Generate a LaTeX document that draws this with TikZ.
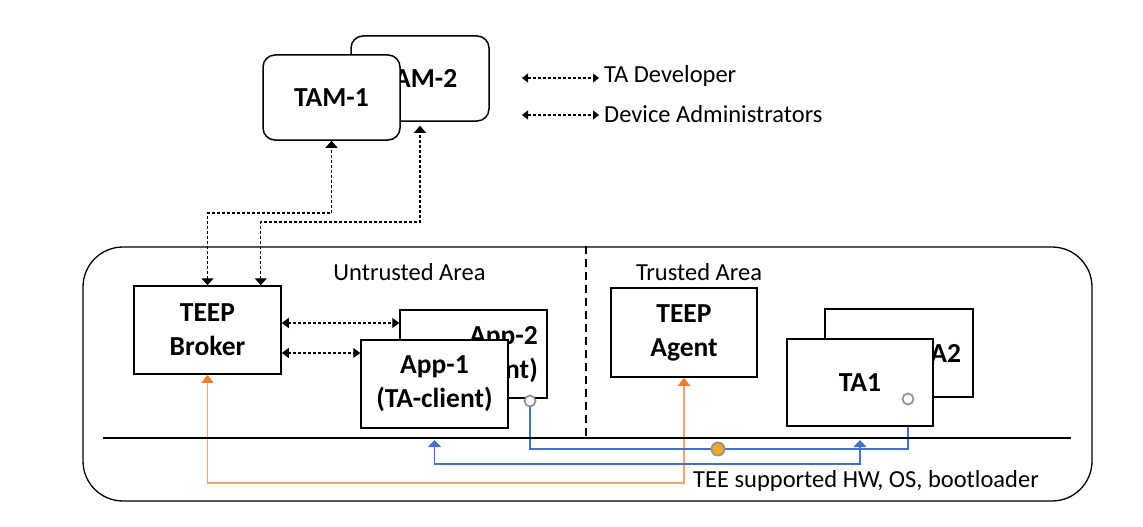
\documentclass[tikz,border=0pt]{standalone}
\usepackage{fontspec}
\setmainfont{Carlito}
\usetikzlibrary{arrows.meta,calc}
\pgfdeclarelayer{bg}
\pgfsetlayers{bg,main}
\definecolor{tblue}{HTML}{4472C4}
\definecolor{torange}{HTML}{ED7D31}
\definecolor{tlorange}{HTML}{F2A36E}
\definecolor{tgray}{HTML}{949494}
\definecolor{tdot}{HTML}{F5A623}
\begin{document}
\begin{tikzpicture}[x=1pt,y=-1pt,
  box/.style={draw, line width=1.5pt, fill=white, inner sep=0pt,
    font=\fontsize{27.5}{34}\selectfont\bfseries, align=center},
  rbox/.style={box, rounded corners=12pt},
  btxt/.style={inner sep=0pt, font=\fontsize{27.5}{34}\selectfont\bfseries},
  lbl/.style={font=\fontsize{24.5}{28}\selectfont, inner sep=0pt},
  darr/.style={dash pattern=on 3pt off 2pt, line width=1.1pt,
    {Triangle[width=12pt,length=7pt]}-{Triangle[width=12pt,length=7pt]}},
  sarr/.style={dash pattern=on 3pt off 2pt, line width=1.1pt,
    {Triangle[width=10pt,length=7pt]}-{Triangle[width=10pt,length=7pt]}},
  larr/.style={dash pattern=on 3pt off 2pt, line width=1.1pt,
    {Triangle[width=9pt,length=6pt]}-{Triangle[width=9pt,length=6pt]}},
  oarr/.style={draw=tlorange, line width=1.4pt,
    {Triangle[width=12pt,length=8pt,color=torange]}-{Triangle[width=12pt,length=8pt,color=torange]}},
  bline/.style={draw=tblue, line width=1.4pt},
  barr/.style={draw=tblue, line width=1.4pt,
    {Triangle[width=13pt,length=7pt]}-{Triangle[width=13pt,length=7pt]}},
  port/.style={circle, draw=tgray, line width=1.8pt, fill=white, minimum size=11pt, inner sep=0pt},
  dotn/.style={circle, draw=tgray, line width=1.8pt, fill=tdot, minimum size=13pt, inner sep=0pt},
  divl/.style={line width=1.8pt, dash pattern=on 8pt off 5pt}
]
\useasboundingbox (0,0) rectangle (1143,527);

% outer area
\node[draw, line width=1.3pt, rounded corners=40pt, minimum width=1009pt,
  minimum height=254pt, inner sep=0pt] (outer) at (587.5,374) {};

% TAMs
\node[rbox, minimum width=138pt, minimum height=85pt] (tam2) at (420,78.5) {TAM-2};
\node[rbox, minimum width=137pt, minimum height=85pt] (tam1) at (331.5,97.5) {TAM-1};

% untrusted side
\node[box, minimum width=147pt, minimum height=88pt] (broker) at (207.5,330) {TEEP\\Broker};
\node[box, minimum width=147pt, minimum height=88pt] (app2) at (473.5,354) {};
\node[btxt, anchor=east, align=right] (app2t) at (538,355) {App-2\\(TA-client)};
\node[box, minimum width=147pt, minimum height=88pt] (app1) at (434.5,384) {App-1\\(TA-client)};

% trusted side
\node[box, minimum width=146pt, minimum height=89pt] (agent) at (684,332.5) {TEEP\\Agent};
\node[box, minimum width=148pt, minimum height=88pt] (ta2) at (899,353) {};
\node[btxt] (ta2t) at (940,353) {TA2};
\node[box, minimum width=146pt, minimum height=87pt] (ta1) at (860,382.5) {TA1};

% ports and dot
\node[port] (c1) at (530,401) {};
\node[port] (c2) at (908,399) {};
\node[dotn] (od) at (718,449) {};

% labels
\node[lbl] (untr) at (409.5,272) {Untrusted Area};
\node[lbl] (tr) at (699,272) {Trusted Area};
\node[lbl, anchor=west] (hw) at (693,481) {TEE supported HW, OS, bootloader};
\node[lbl, anchor=west] (tdev) at (604,76) {TA Developer};
\node[lbl, anchor=west] (dadm) at (604,114) {Device Administrators};

% legend arrows
\coordinate (l1) at (522,78);
\coordinate (l2) at (522,115);
\draw[larr] (l1) -- ($(tdev.west |- l1)+(-5,0)$);
\draw[larr] (l2) -- ($(dadm.west |- l2)+(-5,0)$);

% hardware line and divider
\coordinate (h1) at (103,438);
\coordinate (h2) at (1071,438);
\draw[line width=1.4pt] (h1) -- (h2);
\coordinate (dv) at (586,438);
\draw[divl] (outer.north -| dv) -- (dv);

\begin{pgfonlayer}{bg}
  \coordinate (j1) at (0,213);
  \coordinate (j2) at (0,222);
  \draw[darr] (broker.north) |- (tam1.south |- j1) -- (tam1.south);
  \draw[darr, shorten >=4pt] ($(broker.north east)+(-21,0)$) |- (tam2.south |- j2) -- (tam2.south);

  \coordinate (k1) at (0,323);
  \coordinate (k2) at (0,353);
  \draw[sarr] (broker.east |- k1) -- (app2.west |- k1);
  \draw[sarr] (broker.east |- k2) -- (app1.west |- k2);

  \coordinate (o1) at (0,483);
  \draw[oarr] (broker.south) |- (agent.south |- o1) -- (agent.south);

  \coordinate (m1) at (0,449);
  \draw[bline] (c1.south) |- (c2 |- m1) -- (c2);

  \coordinate (m2) at (0,464);
  \coordinate (tp) at (0,440);
  \draw[barr] (app1.south |- tp) |- (ta1.south |- m2) -- (ta1.south |- tp);
\end{pgfonlayer}
\end{tikzpicture}
\end{document}
